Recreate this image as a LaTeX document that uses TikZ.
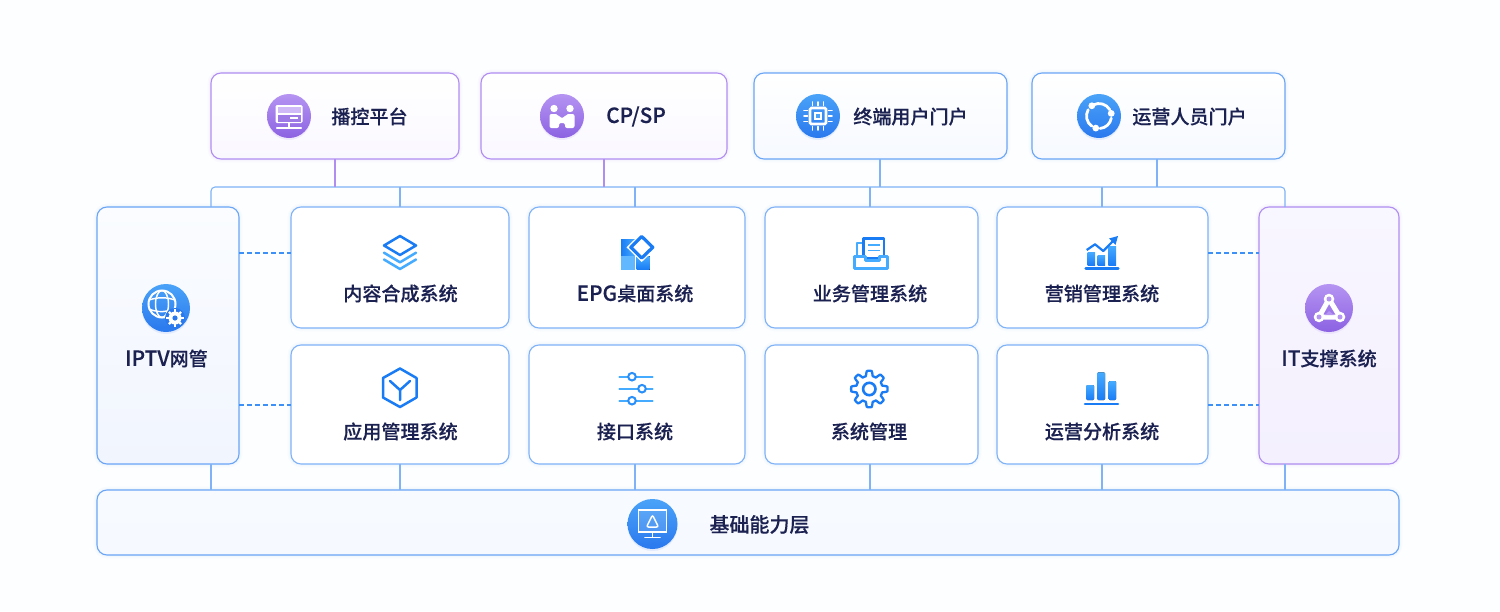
\documentclass[tikz,border=0pt]{standalone}
\usepackage{fontspec}
\setmainfont{Noto Sans CJK SC}[UprightFont=* Medium,UprightFeatures={FakeBold=0.25}]
\newcommand{\lat}[1]{{\fontsize{15.6pt}{17pt}\selectfont #1}}
\definecolor{bl}{HTML}{7FB2F7}
\definecolor{blk}{HTML}{6AA5F6}
\definecolor{pu}{HTML}{B08DF0}
\definecolor{ink}{HTML}{1B2150}
\definecolor{ib}{HTML}{1A7CF5}
\definecolor{il}{HTML}{45ABFF}
\definecolor{cbt}{HTML}{4AA3F8}
\definecolor{cbb}{HTML}{2A78EE}
\definecolor{cpt}{HTML}{B594F2}
\definecolor{cpb}{HTML}{8C62E2}
\definecolor{pagebg}{HTML}{FDFEFF}
\definecolor{tbb}{HTML}{F6F9FF}
\definecolor{tpb}{HTML}{FAF8FF}
\definecolor{sbt}{HTML}{FAFCFF}
\definecolor{sbb}{HTML}{F1F5FE}
\definecolor{spt}{HTML}{F8F6FF}
\definecolor{spb}{HTML}{F4F0FE}
\definecolor{fbt}{HTML}{F7FAFF}
\tikzset{
  x=0.75pt,y=-0.75pt,
  softb/.style={preaction={draw=bl,opacity=.04,line width=5pt},preaction={draw=bl,opacity=.06,line width=2.5pt}},
  softp/.style={preaction={draw=pu,opacity=.04,line width=5pt},preaction={draw=pu,opacity=.06,line width=2.5pt}},
  card/.style={rectangle,rounded corners=7.5pt,inner sep=0pt,outer sep=0pt,line width=0.85pt},
  bluecard/.style={card,draw=bl,softb,fill=white},
  topb/.style={card,draw=blk,softb,top color=white,bottom color=tbb},
  topp/.style={card,draw=pu,softp,top color=white,bottom color=tpb},
  sideb/.style={card,draw=blk,softb,top color=sbt,bottom color=sbb},
  sidep/.style={card,draw=pu,softp,top color=spt,bottom color=spb},
  base/.style={card,draw=blk,softb,top color=fbt,bottom color=tbb},
  lab/.style={inner sep=0pt,outer sep=0pt,text=ink,font=\fontsize{14.3pt}{17pt}\selectfont},
  cb/.style={circle,inner sep=0pt,minimum size=#1*0.75pt,top color=cbt,bottom color=cbb,preaction={fill=cbb,opacity=.1,transform canvas={yshift=-1.5pt}}},
  cp/.style={circle,inner sep=0pt,minimum size=#1*0.75pt,top color=cpt,bottom color=cpb,preaction={fill=cpb,opacity=.1,transform canvas={yshift=-1.5pt}}},
  bus/.style={draw=bl,line width=0.8pt},
  busp/.style={draw=pu,line width=0.8pt},
  dash line/.style={draw=ib!85!white,line width=1pt,dash pattern=on 3.6pt off 2.4pt},
  wl/.style={draw=white,line width=#1*0.75pt,line cap=round,line join=round},
  il1/.style={draw=ib,line width=2.5*0.75pt,line join=round,line cap=round},
  il2/.style={draw=il,line width=2.5*0.75pt,line join=round,line cap=round},
}
\newcommand{\nbox}[6]{\node[#6,minimum width={(#4-#2)*0.75pt},minimum height={(#5-#3)*0.75pt}] (#1) at ({(#2+#4)/2},{(#3+#5)/2}) {};}
\begin{document}
\begin{tikzpicture}
\useasboundingbox (0,0) rectangle (1500,611);
\fill[pagebg] (0,0) rectangle (1500,611);

% cards
\nbox{tA}{211}{73}{459}{159}{topp}
\nbox{tB}{481}{73}{727}{159}{topp}
\nbox{tC}{754}{73}{1007}{159}{topb}
\nbox{tD}{1032}{73}{1285}{159}{topb}
\nbox{left}{97}{207}{239}{464}{sideb}
\nbox{right}{1259}{207}{1399}{464}{sidep}
\nbox{a1}{291}{207}{509}{328}{bluecard}
\nbox{a2}{529}{207}{745}{328}{bluecard}
\nbox{a3}{765}{207}{978}{328}{bluecard}
\nbox{a4}{997}{207}{1208}{328}{bluecard}
\nbox{b1}{291}{345}{509}{464}{bluecard}
\nbox{b2}{529}{345}{745}{464}{bluecard}
\nbox{b3}{765}{345}{978}{464}{bluecard}
\nbox{b4}{997}{345}{1208}{464}{bluecard}
\nbox{found}{97}{490}{1399}{555}{base}

% junctions
\coordinate (jA) at (335,187);
\coordinate (jB) at (604,187);
\coordinate (jC) at (880,187);
\coordinate (jD) at (1157,187);
\coordinate (dL) at (211,187);
\coordinate (d1) at (400,187);
\coordinate (d2) at (635,187);
\coordinate (d3) at (870,187);
\coordinate (d4) at (1102,187);
\coordinate (dR) at (1285,187);

% connectors
\draw[bus,rounded corners=3pt] (left.north -| dL) -- (dL) -- (dR) -- (right.north -| dR);
\draw[busp] (tA.south -| jA) -- (jA);
\draw[busp] (tB.south -| jB) -- (jB);
\draw[bus] (tC.south -| jC) -- (jC);
\draw[bus] (tD.south -| jD) -- (jD);
\draw[bus] (d1) -- (a1.north -| d1);
\draw[bus] (d2) -- (a2.north -| d2);
\draw[bus] (d3) -- (a3.north -| d3);
\draw[bus] (d4) -- (a4.north -| d4);
\draw[bus] (left.south -| dL) -- (found.north -| dL);
\draw[bus] (b1.south -| d1) -- (found.north -| d1);
\draw[bus] (b2.south -| d2) -- (found.north -| d2);
\draw[bus] (b3.south -| d3) -- (found.north -| d3);
\draw[bus] (b4.south -| d4) -- (found.north -| d4);
\draw[bus] (right.south -| dR) -- (found.north -| dR);
\coordinate (ya) at (0,253);
\coordinate (yb) at (0,405);
\draw[dash line] (left.east |- ya) -- (a1.west |- ya);
\draw[dash line] (left.east |- yb) -- (b1.west |- yb);
\draw[dash line] (a4.east |- ya) -- (right.west |- ya);
\draw[dash line] (b4.east |- yb) -- (right.west |- yb);

% labels
\node[lab] (LtA) at (369.5,116.5) {播控平台};
\node[lab] (LtB) at (636,116.5) {\lat{CP/SP}};
\node[lab] (LtC) at (910.5,116.5) {终端用户门户};
\node[lab] (LtD) at (1189.5,116.5) {运营人员门户};
\node[lab] (Lleft) at (166.5,358.5) {\lat{IPTV}网管};
\node[lab] (Lright) at (1329,358.5) {\lat{IT}支撑系统};
\node[lab] (La1) at (400.5,293.5) {内容合成系统};
\node[lab] (La2) at (635,293.5) {\lat{EPG}桌面系统};
\node[lab] (La3) at (870,293.5) {业务管理系统};
\node[lab] (La4) at (1102,293.5) {营销管理系统};
\node[lab] (Lb1) at (400.5,431.5) {应用管理系统};
\node[lab] (Lb2) at (635,431.5) {接口系统};
\node[lab] (Lb3) at (869,431.5) {系统管理};
\node[lab] (Lb4) at (1102,431.5) {运营分析系统};
\node[lab,font=\fontsize{15pt}{18pt}\selectfont] (Lfound) at (759.5,524.5) {基础能力层};

% round badges
\node[cp=44] (cA) at (289,116) {};
\node[cp=44] (cB) at (562,116) {};
\node[cb=44] (cC) at (818,116) {};
\node[cb=44] (cD) at (1099,116) {};
\node[cb=48] (cL) at (166,308) {};
\node[cp=48] (cR) at (1329,308) {};
\node[cb=50] (cF) at (652.5,524) {};

% badge A: monitor
\begin{scope}[shift={(289,116)}]
  \fill[white,rounded corners=1pt] (-13.5,-11) rectangle (13.5,7);
  \fill[cpb!85!white] (-11.5,-1) rectangle (11.5,5.5);
  \fill[cpt!65!white] (-11.5,-9) rectangle (11.5,-3);
  \fill[white] (1,1) rectangle (9,3);
  \draw[wl=2] (0,7) -- (0,11);
  \draw[wl=2.2] (-12,12) -- (12,12);
\end{scope}
% badge B: two people
\begin{scope}[shift={(562,116)}]
  \fill[white] (-8,-7.5) circle (3.7) (8,-7.5) circle (3.7);
  \fill[white,rounded corners=1.5pt] (-12.5,-2) -- (-4,-2) -- (-3,1.5) -- (3,1.5) -- (4,-2) -- (12.5,-2) -- (12.5,12) -- (3,12) -- (3,7) -- (-3,7) -- (-3,12) -- (-12.5,12) -- cycle;
\end{scope}
% badge C: chip
\begin{scope}[shift={(818,116)}]
  \draw[white,line width=2.6*0.75pt,rounded corners=1pt] (-8,-8) rectangle (8,8);
  \fill[white] (-4,-4) rectangle (4,4);
  \fill[cbt] (-2,-2) rectangle (2,2);
  \foreach \t in {-5.5,0,5.5}{
    \draw[wl=1.9] (\t,-10.5) -- (\t,-14);
    \draw[wl=1.9] (\t,10.5) -- (\t,14);
    \draw[wl=1.9] (-10.5,\t) -- (-14,\t);
    \draw[wl=1.9] (10.5,\t) -- (14,\t);
  }
\end{scope}
% badge D: ring
\begin{scope}[shift={(1099,116)}]
  \draw[wl=2.8] (-118:12.5) arc[start angle=-118,end angle=-30,radius=12.5];
  \draw[wl=2.8] (10:12.5) arc[start angle=10,end angle=85,radius=12.5];
  \draw[wl=2.8] (125:12.5) arc[start angle=125,end angle=210,radius=12.5];
  \fill[white] (-125:12.5) circle (3.4) (-12:12.5) circle (3.4) (105:12.5) circle (3.4);
\end{scope}
% badge L: globe and gear
\begin{scope}[shift={(166,308)}]
  \draw[white,line width=1.5] (-4,-4) circle (13.5);
  \draw[white,line width=1.1] (-4,-4) ellipse (6.5 and 13.5);
  \draw[white,line width=1.1] (-17,-8) .. controls (-8,-11) and (0,-11) .. (9,-8);
  \draw[white,line width=1.1] (-17,1) .. controls (-10,4) and (-4,4) .. (1,3);
  \fill[cbb] (9,10) circle (10);
  \foreach \a in {0,45,...,315}{\draw[white,line width=2.4*0.75pt] (9,10) ++(\a:6) -- ++(\a:2.6);}
  \fill[white] (9,10) circle (6.5);
  \fill[cbb] (9,10) circle (2.6);
\end{scope}
% badge R: linked nodes
\begin{scope}[shift={(1329,308)}]
  \draw[wl=5] (0,-9) -- (-10,9) -- (11,9);
  \draw[wl=5] (0,-9) -- (11,9);
  \fill[cpt] (0,3) -- (-4,7) -- (5,7) -- cycle;
  \fill[white] (0,-9) circle (5.3) (-10,9) circle (5.3) (11,9) circle (5.3);
  \fill[cpt] (0,-9) circle (2.5) (-10,9) circle (2.5) (11,9) circle (2.5);
\end{scope}
% badge F: screen
\begin{scope}[shift={(652.5,524)}]
  \draw[white,line width=1.5*0.75pt,fill=white,fill opacity=.12] (-14,-14) rectangle (14,8);
  \draw[white,line width=1.5*0.75pt,rounded corners=1.5pt] (0,-9) -- (-6,3) -- (6,3) -- cycle;
  \draw[wl=1.7] (0,8) -- (0,13);
  \draw[wl=1.8] (-7.5,13.5) -- (7.5,13.5);
\end{scope}

% layers
\draw[il1] (400,236) -- (416,245.5) -- (400,255) -- (384,245.5) -- cycle;
\draw[il2] (384,252.7) -- (400,262.3) -- (416,252.7);
\draw[il2] (384,259.5) -- (400,269) -- (416,259.5);
% cube
\draw[il1] (400,368.5) -- (416.5,378) -- (416.5,397.5) -- (400,407) -- (383,397.5) -- (383,378) -- cycle;
\draw[il1] (390,381) -- (400,390) -- (410,381) (400,390) -- (400,400);
% EPG tiles
\fill[left color=ib,right color=il] (621,239.5) rectangle (635,255);
\fill[il!85!white] (621,256) rectangle (635,269.5);
\fill[bottom color=ib,top color=il] (636.5,256) rectangle (649.5,269.5);
\fill[white] (641.7,232.5) -- (657,247.3) -- (641.7,262) -- (626.5,247.3) -- cycle;
\draw[ib,line width=3.2*0.75pt,line join=round,fill=white] (641.7,236.5) -- (652.8,247.3) -- (641.7,258) -- (630.8,247.3) -- cycle;
% tray
\draw[il2,fill=white] (857,262) -- (857,243) -- (870,243) -- (870,262);
\draw[ib,line width=2.2*0.75pt,fill=white,line join=round] (863.5,258) -- (863.5,238.5) -- (884,238.5) -- (884,258) -- cycle;
\draw[il,line width=1.6*0.75pt] (868,245) -- (880,245) (868,250.5) -- (880,250.5);
\draw[il2,line width=3*0.75pt,fill=white] (854,256) -- (865,256) -- (865,260) -- (879,260) -- (879,256) -- (887,256) -- (887,268.5) -- (854,268.5) -- cycle;
% sliders
\foreach \yy/\xx in {376.7/632,388.7/642,400.7/632}{
  \draw[il,line width=2.4*0.75pt,line cap=round] (619.5,\yy) -- (652.5,\yy);
  \draw[ib!60!il,line width=2*0.75pt,fill=white] (\xx,\yy) circle (3.8);
}
% gear
\begin{scope}[shift={(869.3,389)}]
  \draw[ib,line width=2.3*0.75pt,line join=round] plot[domain=0:357.5,samples=144] (\x:{15.7+2.5*max(-1,min(1,2.2*cos(8*\x)))}) -- cycle;
  \draw[ib,line width=2.6*0.75pt] (0,0) circle (6.2);
\end{scope}
% rising chart
\fill[bottom color=ib,top color=il] (1087.7,252) rectangle (1095,265);
\fill[bottom color=ib,top color=il] (1097.7,255) rectangle (1105,265);
\fill[bottom color=ib,top color=il] (1108.3,246) rectangle (1116,265);
\draw[ib,line width=2.6*0.75pt,line cap=round] (1085.7,268.5) -- (1118.3,268.5);
\draw[ib,line width=2.2*0.75pt,line join=round] (1086.7,250) -- (1095,244.3) -- (1103.3,251) -- (1113,241);
\fill[ib] (1118,236) -- (1115.5,245) -- (1109,238.5) -- cycle;
% bars
\fill[bottom color=ib,top color=il,rounded corners=0.8pt] (1086.3,385) rectangle (1094,400);
\fill[bottom color=ib,top color=il,rounded corners=0.8pt] (1097.3,372.3) rectangle (1105,400);
\fill[bottom color=ib,top color=il,rounded corners=0.8pt] (1108.7,381) rectangle (1116,400);
\draw[ib,line width=2.6*0.75pt,line cap=round] (1085,404) -- (1118,404);
\end{tikzpicture}
\end{document}
